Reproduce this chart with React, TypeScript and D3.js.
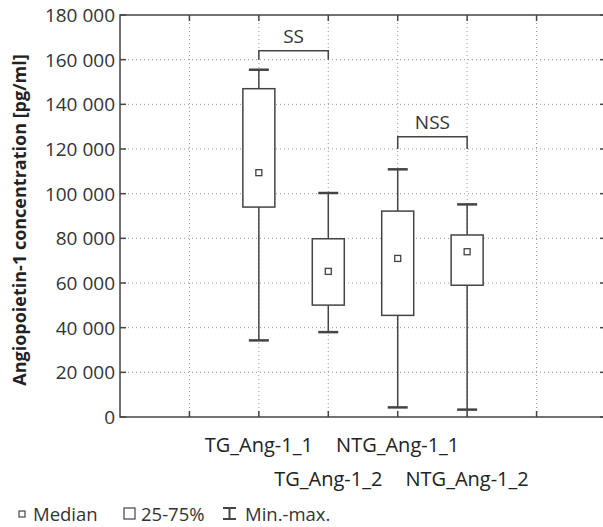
import React from "react";
import * as d3 from "d3";

const categories = ["TG_Ang-1_1", "TG_Ang-1_2", "NTG_Ang-1_1", "NTG_Ang-1_2"];
const positions = [2, 3, 4, 5];
const minValues = [34300, 38000, 4300, 3300];
const q1Values = [94000, 50100, 45500, 59000];
const medianValues = [109400, 65200, 71000, 74000];
const q3Values = [147000, 79800, 92200, 81500];
const maxValues = [155500, 100300, 110900, 95200];
const yTicks = [0, 20000, 40000, 60000, 80000, 100000, 120000, 140000, 160000, 180000];
const xTicks = [1, 2, 3, 4, 5, 6];
const brackets = [
  { from: 2, to: 3, level: 164000, base: 160000, label: "SS" },
  { from: 4, to: 5, level: 125500, base: 120000, label: "NSS" },
];

const W = 603, H = 527;
const left = 120, right = 606, top = 15, bottom = 417;
const FONT = "'Open Sans', 'Noto Sans', sans-serif";
const AX = "#444";
const TXT = "#333";

export default function App() {
  const x = d3.scaleLinear().domain([0, 7]).range([left, right]);
  const y = d3.scaleLinear().domain([0, 180000]).range([bottom, top]);
  const fmt = (v: number) => d3.format(",")(v).replace(/,/g, " ");
  const bw = 32;
  const cw = 20;
  return (
    <svg width={W} height={H} style={{ position: "absolute", left: 0, top: 0 }} fontFamily={FONT}>
      <rect width={W} height={H} fill="#fff" />
      {/* grid */}
      {yTicks.slice(1, -1).map((t) => (
        <line key={"gy" + t} x1={left} x2={right} y1={y(t)} y2={y(t)} stroke="#999" strokeWidth={1} strokeDasharray="1,3" />
      ))}
      {xTicks.map((t) => (
        <line key={"gx" + t} x1={x(t)} x2={x(t)} y1={top} y2={bottom} stroke="#999" strokeWidth={1} strokeDasharray="1,3" />
      ))}
      {/* frame */}
      <rect x={left} y={top} width={right - left} height={bottom - top} fill="none" stroke={AX} strokeWidth={1.5} />
      {/* ticks */}
      {yTicks.map((t) => (
        <g key={"ty" + t}>
          <line x1={left} x2={left + 6} y1={y(t)} y2={y(t)} stroke={AX} strokeWidth={1.5} />
          <line x1={right - 6} x2={right} y1={y(t)} y2={y(t)} stroke={AX} strokeWidth={1.5} />
          <text x={left - 5} y={y(t)} dy="0.36em" textAnchor="end" fontSize={19} fill={TXT}>{fmt(t)}</text>
        </g>
      ))}
      {xTicks.map((t) => (
        <g key={"tx" + t}>
          <line x1={x(t)} x2={x(t)} y1={top} y2={top + 6} stroke={AX} strokeWidth={1.5} />
          <line x1={x(t)} x2={x(t)} y1={bottom - 6} y2={bottom} stroke={AX} strokeWidth={1.5} />
        </g>
      ))}
      {/* boxes */}
      {categories.map((c, i) => {
        const cx = x(positions[i]);
        return (
          <g key={c}>
            <line x1={cx} x2={cx} y1={y(maxValues[i])} y2={y(q3Values[i])} stroke={AX} strokeWidth={1.5} />
            <line x1={cx} x2={cx} y1={y(q1Values[i])} y2={y(minValues[i])} stroke={AX} strokeWidth={1.5} />
            <line x1={cx - cw / 2} x2={cx + cw / 2} y1={y(maxValues[i])} y2={y(maxValues[i])} stroke={AX} strokeWidth={2.5} />
            <line x1={cx - cw / 2} x2={cx + cw / 2} y1={y(minValues[i])} y2={y(minValues[i])} stroke={AX} strokeWidth={2.5} />
            <rect x={cx - bw / 2} y={y(q3Values[i])} width={bw} height={y(q1Values[i]) - y(q3Values[i])} fill="#fff" stroke={AX} strokeWidth={1.5} />
            <rect x={cx - 3} y={y(medianValues[i]) - 3} width={6} height={6} fill="#fff" stroke={AX} strokeWidth={1.3} />
          </g>
        );
      })}
      {/* brackets */}
      {brackets.map((b) => (
        <g key={b.label}>
          <path d={`M${x(b.from)},${y(b.base)}V${y(b.level)}H${x(b.to)}V${y(b.base)}`} fill="none" stroke={AX} strokeWidth={1.5} />
          <text x={(x(b.from) + x(b.to)) / 2} y={y(b.level) - 8} textAnchor="middle" fontSize={19} fill={TXT}>{b.label}</text>
        </g>
      ))}
      {/* x labels */}
      {categories.map((c, i) => (
        <text key={"xl" + c} x={x(positions[i])} y={i % 2 === 0 ? 452 : 486} textAnchor="middle" fontSize={20} fill="#222">{c}</text>
      ))}
      {/* y label */}
      <text transform={`translate(26,220) rotate(-90)`} textAnchor="middle" fontSize={18} fontWeight="bold" fill="#222">Angiopoietin-1 concentration [pg/ml]</text>
      {/* legend */}
      <g fontSize={18.5} fill={TXT}>
        <rect x={19} y={511} width={6} height={6} fill="#fff" stroke={AX} strokeWidth={1.2} />
        <text x={33} y={521}>Median</text>
        <rect x={124} y={508} width={11} height={11} fill="#fff" stroke={AX} strokeWidth={1.2} />
        <text x={141} y={521}>25-75%</text>
        <path d="M223,508H236M229.5,508V519M223,519H236" stroke={AX} strokeWidth={2} fill="none" />
        <text x={245} y={521}>Min.-max.</text>
      </g>
    </svg>
  );
}
